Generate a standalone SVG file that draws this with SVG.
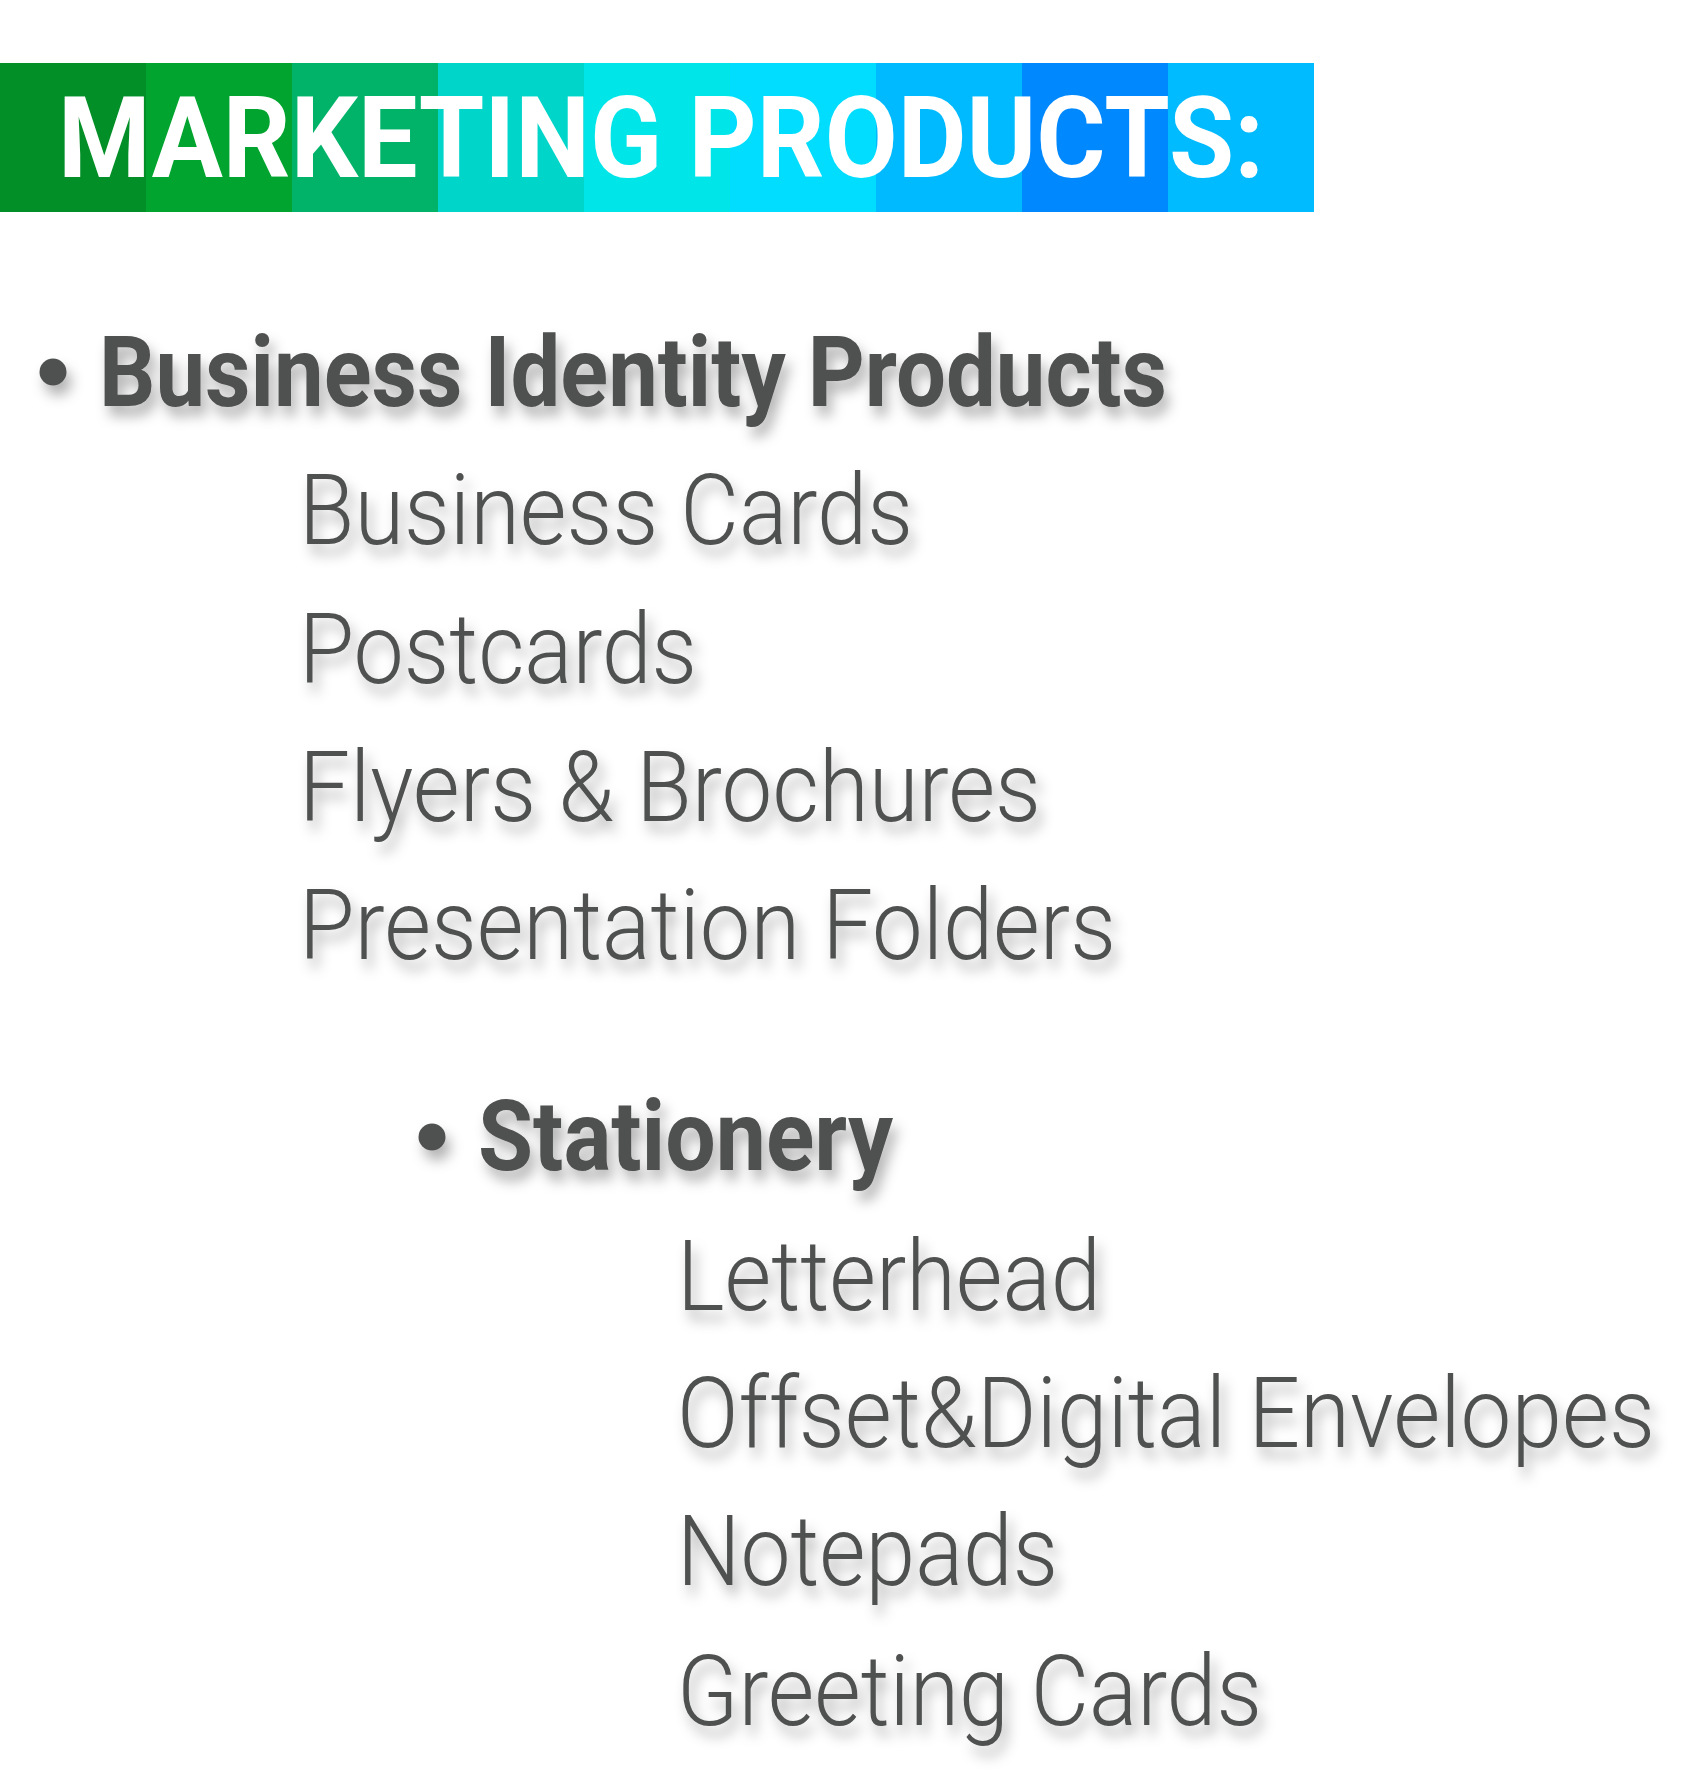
<svg xmlns="http://www.w3.org/2000/svg" width="1688" height="1786" viewBox="0 0 1688 1786">
  <defs>
    <filter id="shadow" x="-6%" y="-35%" width="118%" height="180%">
      <feDropShadow dx="5" dy="10" stdDeviation="6.5" flood-color="#000000" flood-opacity="0.3"/>
    </filter>
  </defs>
  <style>
    .title { font-family: Roboto, "Liberation Sans", sans-serif; font-weight: 700; font-size: 114px; fill: #ffffff; }
    .head { font-family: Roboto, "Liberation Sans", sans-serif; font-weight: 700; font-size: 99px; fill: #505151; }
    .item { font-family: Roboto, "Liberation Sans", sans-serif; font-weight: 300; font-size: 98px; fill: #505151; }
    .bullet { fill: #505151; }
  </style>
  <rect x="0" y="0" width="1688" height="1786" fill="#ffffff"/>

  <g id="banner">
    <rect x="0" y="63" width="146" height="149" fill="#028f27"/>
    <rect x="146" y="63" width="146" height="149" fill="#01a42f"/>
    <rect x="292" y="63" width="146" height="149" fill="#00b369"/>
    <rect x="438" y="63" width="146" height="149" fill="#00d5ca"/>
    <rect x="584" y="63" width="146" height="149" fill="#00e5e8"/>
    <rect x="730" y="63" width="146" height="149" fill="#00ddff"/>
    <rect x="876" y="63" width="146" height="149" fill="#00baff"/>
    <rect x="1022" y="63" width="146" height="149" fill="#0088ff"/>
    <rect x="1168" y="63" width="146" height="149" fill="#00bbff"/>
    <text class="title" x="58" y="177" textLength="1206" lengthAdjust="spacingAndGlyphs">MARKETING PRODUCTS:</text>
  </g>

  <g id="business-identity" filter="url(#shadow)">
    <circle class="bullet" cx="53" cy="372" r="13.5"/>
    <text class="head" x="99" y="406" textLength="1068" lengthAdjust="spacingAndGlyphs">Business Identity Products</text>
  </g>
  <g id="business-cards" filter="url(#shadow)">
    <text class="item" x="299" y="544" textLength="614" lengthAdjust="spacingAndGlyphs">Business Cards</text>
  </g>
  <g id="postcards" filter="url(#shadow)">
    <text class="item" x="299" y="683" textLength="398" lengthAdjust="spacingAndGlyphs">Postcards</text>
  </g>
  <g id="flyers" filter="url(#shadow)">
    <text class="item" x="299" y="821" textLength="742" lengthAdjust="spacingAndGlyphs">Flyers &amp; Brochures</text>
  </g>
  <g id="presentation-folders" filter="url(#shadow)">
    <text class="item" x="299" y="959" textLength="817" lengthAdjust="spacingAndGlyphs">Presentation Folders</text>
  </g>

  <g id="stationery" filter="url(#shadow)">
    <circle class="bullet" cx="432" cy="1137" r="13.5"/>
    <text class="head" x="478" y="1170" textLength="415" lengthAdjust="spacingAndGlyphs">Stationery</text>
  </g>
  <g id="letterhead" filter="url(#shadow)">
    <text class="item" x="677" y="1310" textLength="424" lengthAdjust="spacingAndGlyphs">Letterhead</text>
  </g>
  <g id="envelopes" filter="url(#shadow)">
    <text class="item" transform="scale(0.88 1)" x="769.3" y="1447" textLength="1111.4" lengthAdjust="spacingAndGlyphs">Offset&amp;Digital Envelopes</text>
  </g>
  <g id="notepads" filter="url(#shadow)">
    <text class="item" x="677" y="1585" textLength="381" lengthAdjust="spacingAndGlyphs">Notepads</text>
  </g>
  <g id="greeting-cards" filter="url(#shadow)">
    <text class="item" x="677" y="1725" textLength="585" lengthAdjust="spacingAndGlyphs">Greeting Cards</text>
  </g>
  <g id="connectors"/>
</svg>
